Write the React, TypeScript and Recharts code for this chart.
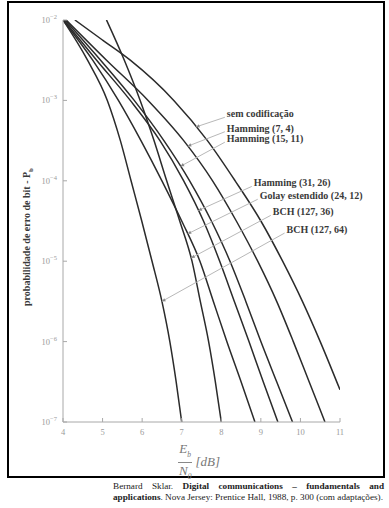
import { LineChart, Line, XAxis, YAxis, ReferenceLine } from 'recharts';

// log10(Pb) levels shared by the coded curves
const PB_EXPONENTS = [-2, -2.5, -3, -3.5, -4, -4.5, -5, -5.5, -6, -6.5, -7];

// Eb/N0 (dB) read at each level above
const BCH_127_64 = [4.0, 4.62, 5.12, 5.45, 5.72, 5.99, 6.25, 6.5, 6.7, 6.86, 7.0];
const BCH_127_36 = [5.1, 5.55, 5.95, 6.3, 6.62, 6.95, 7.26, 7.47, 7.68, 7.85, 8.0];
const GOLAY_24_12 = [4.0, 4.75, 5.4, 5.97, 6.5, 7.0, 7.46, 7.8, 8.14, 8.5, 8.85];
const HAMMING_31_26 = [4.02, 4.85, 5.7, 6.45, 7.05, 7.55, 7.96, 8.33, 8.7, 9.06, 9.43];
const HAMMING_15_11 = [4.05, 4.95, 5.8, 6.55, 7.2, 7.75, 8.22, 8.62, 9.0, 9.4, 9.8];
const HAMMING_7_4 = [4.08, 5.1, 6.15, 7.05, 7.78, 8.38, 8.92, 9.4, 9.82, 10.22, 10.62];

// uncoded curve has its own levels (stops at 11 dB)
const UNCODED_EXPONENTS = [-2, -2.25, -2.5, -3, -3.5, -4, -4.5, -5, -5.5, -6, -6.6];
const UNCODED_DB = [4.3, 5.0, 5.7, 6.8, 7.65, 8.35, 9.0, 9.55, 10.05, 10.5, 11.0];

const X_TICKS = [4, 5, 6, 7, 8, 9, 10, 11];
const Y_EXPONENT_TICKS = [-7, -6, -5, -4, -3, -2];

// label text, arrow start (at the text) and arrow tip (on the curve), as [dB, log10 Pb]
const CURVE_LABELS = [
    { text: 'sem codificação', from: [8.09, -3.21], to: [7.36, -3.33] },
    { text: 'Hamming (7, 4)', from: [8.09, -3.39], to: [7.15, -3.57] },
    { text: 'Hamming (15, 11)', from: [8.09, -3.52], to: [6.97, -3.82] },
    { text: 'Hamming (31, 26)', from: [8.77, -4.07], to: [7.42, -4.37] },
    { text: 'Golay estendido (24, 12)', from: [8.92, -4.23], to: [7.15, -4.66] },
    { text: 'BCH (127, 36)', from: [9.25, -4.43], to: [7.24, -4.96] },
    { text: 'BCH (127, 64)', from: [9.6, -4.65], to: [6.5, -5.5] },
];

const CURVE_COLOR = '#2b2b2b';
const AXIS_COLOR = '#a8a8a8';
const PLOT_LEFT = 63;
const PLOT_BOTTOM = 422;

const toPoints = (dbs: number[], exps: number[]) =>
    dbs.map((db, i) => ({ ebn0: db, pb: 10 ** exps[i] }));

const SERIES = [
    toPoints(UNCODED_DB, UNCODED_EXPONENTS),
    toPoints(HAMMING_7_4, PB_EXPONENTS),
    toPoints(HAMMING_15_11, PB_EXPONENTS),
    toPoints(HAMMING_31_26, PB_EXPONENTS),
    toPoints(GOLAY_24_12, PB_EXPONENTS),
    toPoints(BCH_127_36, PB_EXPONENTS),
    toPoints(BCH_127_64, PB_EXPONENTS),
];

const YTick = (props: any) => {
    const { y, payload } = props;
    const exp = Math.round(Math.log10(payload.value));
    return (
        <g>
            <line x1={PLOT_LEFT} x2={PLOT_LEFT + 4} y1={y} y2={y} stroke={AXIS_COLOR} />
            <text x={PLOT_LEFT - 6} y={y + 3} textAnchor="end" fontSize={8.5} fill="#9a9a9a">
                10
                <tspan dy={-4} fontSize={6.5}>
                    {'\u2212' + Math.abs(exp)}
                </tspan>
            </text>
        </g>
    );
};

const XTick = (props: any) => {
    const { x, payload } = props;
    return (
        <g>
            <line x1={x} x2={x} y1={PLOT_BOTTOM} y2={PLOT_BOTTOM - 4} stroke={AXIS_COLOR} />
            <text x={x} y={PLOT_BOTTOM + 13} textAnchor="middle" fontSize={8.5} fill="#9a9a9a">
                {payload.value}
            </text>
        </g>
    );
};

const arrowShape = (text: string) => (props: any) => {
    const { x1, y1, x2, y2 } = props;
    const ang = Math.atan2(y2 - y1, x2 - x1);
    const len = 4;
    const ax = x2 - len * Math.cos(ang - 0.45);
    const ay = y2 - len * Math.sin(ang - 0.45);
    const bx = x2 - len * Math.cos(ang + 0.45);
    const by = y2 - len * Math.sin(ang + 0.45);
    return (
        <g>
            <line x1={x1} y1={y1} x2={x2} y2={y2} stroke="#b8b8b8" strokeWidth={1} />
            <path d={`M${x2},${y2}L${ax},${ay}L${bx},${by}Z`} fill="#888" />
            <text
                x={x1 + 2}
                y={y1}
                fontSize={10}
                fontWeight="bold"
                fill="#3a3a3a"
                fontFamily="'Liberation Serif', serif"
            >
                {text}
            </text>
        </g>
    );
};

export default function App() {
    return (
        <div
            style={{
                position: 'absolute',
                left: 0,
                top: 0,
                width: 389,
                height: 508,
                background: '#fff',
                fontFamily: "'Liberation Serif', serif",
            }}
        >
            <div
                style={{
                    position: 'absolute',
                    left: 7,
                    top: 1,
                    width: 378,
                    height: 477,
                    border: '2px solid #000',
                    boxSizing: 'border-box',
                }}
            />
            <div style={{ position: 'absolute', left: 0, top: 0 }}>
                <LineChart
                    width={389}
                    height={478}
                    margin={{ top: 20, right: 49, left: 0, bottom: 36 }}
                    style={{ fontFamily: "'Liberation Serif', serif" }}
                >
                    <XAxis
                        dataKey="ebn0"
                        type="number"
                        domain={[4, 11]}
                        ticks={X_TICKS}
                        allowDataOverflow
                        height={20}
                        stroke={AXIS_COLOR}
                        tickLine={false}
                        tick={<XTick />}
                        interval={0}
                    />
                    <YAxis
                        type="number"
                        scale="log"
                        domain={[1e-7, 1e-2]}
                        ticks={Y_EXPONENT_TICKS.map(e => 10 ** e)}
                        allowDataOverflow
                        width={63}
                        stroke={AXIS_COLOR}
                        tickLine={false}
                        tick={<YTick />}
                        interval={0}
                    />
                    {SERIES.map((points, i) => (
                        <Line
                            key={i}
                            data={points}
                            dataKey="pb"
                            type="monotone"
                            stroke={CURVE_COLOR}
                            strokeWidth={1.5}
                            dot={false}
                            activeDot={false}
                            isAnimationActive={false}
                        />
                    ))}
                    {CURVE_LABELS.map(lab => (
                        <ReferenceLine
                            key={lab.text}
                            segment={[
                                { x: lab.from[0], y: 10 ** lab.from[1] },
                                { x: lab.to[0], y: 10 ** lab.to[1] },
                            ]}
                            ifOverflow="visible"
                            shape={arrowShape(lab.text)}
                        />
                    ))}
                </LineChart>
            </div>

            {/* y axis title */}
            <div
                style={{
                    position: 'absolute',
                    left: 28,
                    top: 237,
                    transform: 'translate(-50%, -50%) rotate(-90deg)',
                    whiteSpace: 'nowrap',
                    fontSize: 10,
                    fontWeight: 'bold',
                    color: '#3a3a3a',
                }}
            >
                probabilidade de erro de bit - P<sub style={{ fontSize: 7 }}>b</sub>
            </div>

            {/* x axis title */}
            <div
                style={{
                    position: 'absolute',
                    left: 178,
                    top: 442,
                    display: 'flex',
                    alignItems: 'center',
                    fontStyle: 'italic',
                    color: '#777',
                    fontSize: 13,
                }}
            >
                <div style={{ display: 'flex', flexDirection: 'column', alignItems: 'center' }}>
                    <div style={{ lineHeight: '13px', padding: '0 1px' }}>
                        E<sub style={{ fontSize: 7.5 }}>b</sub>
                    </div>
                    <div style={{ width: '100%', borderTop: '1px solid #888', margin: '1px 0' }} />
                    <div style={{ lineHeight: '13px', padding: '0 1px' }}>
                        N<sub style={{ fontSize: 7.5 }}>0</sub>
                    </div>
                </div>
                <div style={{ marginLeft: 3 }}>[dB]</div>
            </div>

            {/* source caption */}
            <div
                style={{
                    position: 'absolute',
                    left: 113,
                    top: 481,
                    width: 271,
                    fontSize: 9.2,
                    lineHeight: '11px',
                    color: '#222',
                }}
            >
                <div style={{ textAlign: 'justify', textAlignLast: 'justify' }}>
                    Bernard Sklar. <b>Digital communications – fundamentals and</b>
                </div>
                <div style={{ whiteSpace: 'nowrap' }}>
                    <b>applications</b>. Nova Jersey: Prentice Hall, 1988, p. 300 (com adaptações).
                </div>
            </div>
        </div>
    );
}
